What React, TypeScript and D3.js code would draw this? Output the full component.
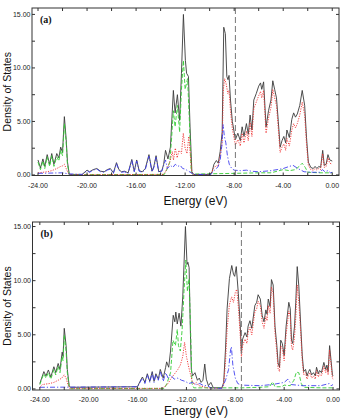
import React from "react";
import { scaleLinear, line, range } from "d3";

type Pt = [number, number];

// energy (eV), density of states
const totalA: Pt[] = [
  [-24.0, 1.4], [-23.8, 0.65], [-23.6, 1.5], [-23.45, 0.8], [-23.25, 1.9], [-23.05, 1.0], [-22.88, 2.0], [-22.7, 1.0],
  [-22.47, 2.0], [-22.3, 1.6], [-22.15, 2.6], [-22.0, 2.1], [-21.85, 5.45], [-21.7, 3.3], [-21.6, 1.25], [-21.45, 0.05],
  [-20.4, 0.05], [-20.0, 0.45], [-19.8, 0.3], [-19.5, 0.5], [-19.2, 0.6], [-18.9, 0.35], [-18.6, 0.3], [-18.35, 0.5],
  [-18.1, 0.6], [-17.85, 0.2], [-17.6, 1.15], [-17.4, 0.5], [-17.2, 0.3], [-16.95, 0.35], [-16.65, 0.2], [-16.35, 1.45],
  [-16.15, 0.35], [-15.95, 1.4], [-15.75, 0.4], [-15.5, 0.3], [-15.25, 0.6], [-14.95, 1.9], [-14.7, 0.35], [-14.55, 0.8],
  [-14.37, 1.8], [-14.15, 0.3], [-13.9, 0.4], [-13.75, 1.0], [-13.6, 2.3], [-13.4, 1.5], [-13.2, 2.6], [-12.96, 7.9],
  [-12.82, 5.8], [-12.63, 7.5], [-12.45, 5.1], [-12.3, 9.5], [-12.14, 15.0], [-11.98, 10.7], [-11.88, 9.5], [-11.73, 9.2],
  [-11.6, 4.5], [-11.45, 0.3], [-11.3, 0.05], [-10.0, 0.05], [-9.8, 0.3], [-9.65, 1.0], [-9.45, 1.35], [-9.3, 1.1],
  [-9.14, 2.2], [-8.98, 4.0], [-8.85, 13.8], [-8.72, 13.2], [-8.6, 9.2], [-8.5, 8.9], [-8.42, 9.3], [-8.3, 7.0],
  [-8.15, 5.0], [-8.0, 4.0], [-7.9, 3.3], [-7.7, 3.9], [-7.5, 3.2], [-7.35, 4.5], [-7.2, 3.6], [-7.0, 4.8],
  [-6.85, 3.8], [-6.7, 5.6], [-6.55, 4.2], [-6.4, 7.0], [-6.2, 7.6], [-6.0, 8.3], [-5.85, 8.6], [-5.75, 8.0],
  [-5.6, 8.7], [-5.4, 4.5], [-5.2, 6.0], [-5.0, 7.0], [-4.85, 8.8], [-4.7, 8.0], [-4.55, 7.2], [-4.4, 5.0],
  [-4.25, 2.6], [-4.1, 3.2], [-3.95, 3.6], [-3.8, 3.0], [-3.7, 4.2], [-3.5, 3.5], [-3.3, 5.2], [-3.15, 5.8],
  [-3.0, 5.4], [-2.85, 5.7], [-2.65, 6.5], [-2.45, 7.9], [-2.25, 6.5], [-2.1, 3.5], [-1.95, 1.2], [-1.75, 0.7],
  [-1.55, 0.6], [-1.4, 0.8], [-1.25, 0.6], [-1.1, 0.8], [-0.95, 0.7], [-0.78, 2.3], [-0.65, 0.9], [-0.5, 1.0],
  [-0.35, 1.9], [-0.2, 1.4], [0, 1.3],
];

const sA: Pt[] = [
  [-24.0, 1.2], [-23.8, 0.5], [-23.6, 1.3], [-23.45, 0.6], [-23.25, 1.7], [-23.05, 0.8], [-22.88, 1.8], [-22.7, 0.8],
  [-22.47, 1.7], [-22.3, 1.3], [-22.15, 2.3], [-22.0, 1.8], [-21.85, 4.8], [-21.7, 3.0], [-21.6, 1.0], [-21.45, 0.03],
  [-13.7, 0.05], [-13.45, 0.6], [-13.25, 1.2], [-13.1, 3.5], [-12.96, 6.0], [-12.82, 4.5], [-12.63, 6.5], [-12.45, 4.0],
  [-12.3, 8.0], [-12.14, 10.7], [-12.0, 8.0], [-11.8, 9.0], [-11.65, 5.0], [-11.5, 0.3], [-11.4, 0.08], [-8.0, 0.15],
  [-6.0, 0.2], [-5.0, 0.2], [-4.5, 0.35], [-4.0, 0.5], [-3.5, 0.4], [-3.0, 0.5], [-2.7, 0.8], [-2.45, 1.1],
  [-2.2, 0.7], [-2.0, 0.25], [-1.0, 0.2], [0, 0.2],
];

const pA: Pt[] = [
  [-24.0, 0.2], [-23.6, 0.25], [-23.25, 0.3], [-22.88, 0.4], [-22.47, 0.6], [-22.15, 0.8], [-22.0, 0.85], [-21.85, 1.0],
  [-21.7, 0.6], [-21.55, 0.2], [-21.45, 0.02], [-13.8, 0.05], [-13.6, 0.3], [-13.4, 0.8], [-13.2, 1.4], [-13.05, 2.2],
  [-12.95, 1.4], [-12.8, 2.5], [-12.65, 1.6], [-12.5, 2.3], [-12.3, 2.0], [-12.15, 3.9], [-12.0, 2.5], [-11.85, 2.0],
  [-11.7, 3.6], [-11.55, 1.5], [-11.45, 0.1], [-11.3, 0.02], [-9.9, 0.02], [-9.7, 0.6], [-9.45, 0.9], [-9.3, 0.8],
  [-9.14, 1.8], [-8.98, 3.0], [-8.88, 8.0], [-8.78, 9.0], [-8.65, 8.5], [-8.52, 7.6], [-8.42, 7.9], [-8.3, 6.0],
  [-8.15, 4.3], [-8.0, 3.4], [-7.9, 2.8], [-7.7, 3.3], [-7.5, 2.7], [-7.35, 3.9], [-7.2, 3.0], [-7.0, 4.1],
  [-6.85, 3.2], [-6.7, 4.9], [-6.55, 3.6], [-6.4, 6.2], [-6.2, 6.8], [-6.0, 7.4], [-5.85, 7.8], [-5.75, 7.2],
  [-5.6, 7.9], [-5.4, 3.9], [-5.2, 5.3], [-5.0, 6.3], [-4.85, 8.0], [-4.7, 7.2], [-4.55, 6.5], [-4.4, 4.3],
  [-4.25, 2.1], [-4.1, 2.6], [-3.95, 2.9], [-3.8, 2.3], [-3.7, 3.4], [-3.5, 2.7], [-3.3, 4.2], [-3.15, 4.8],
  [-3.0, 4.4], [-2.85, 4.8], [-2.65, 5.6], [-2.45, 6.8], [-2.25, 5.6], [-2.1, 2.9], [-1.95, 0.9], [-1.75, 0.5],
  [-1.55, 0.45], [-1.4, 0.6], [-1.25, 0.45], [-1.1, 0.6], [-0.95, 0.5], [-0.78, 2.0], [-0.65, 0.7], [-0.5, 0.8],
  [-0.35, 1.6], [-0.2, 1.1], [0, 1.0],
];

const dA: Pt[] = [
  [-24.0, 0.15], [-22.0, 0.2], [-21.5, 0.1], [-20.4, 0.05], [-20.0, 0.4], [-19.8, 0.25], [-19.5, 0.45], [-19.2, 0.55],
  [-18.9, 0.3], [-18.6, 0.25], [-18.35, 0.45], [-18.1, 0.55], [-17.85, 0.15], [-17.6, 1.05], [-17.4, 0.45], [-17.2, 0.25],
  [-16.95, 0.3], [-16.65, 0.15], [-16.35, 1.35], [-16.15, 0.3], [-15.95, 1.3], [-15.75, 0.35], [-15.5, 0.25], [-15.25, 0.5],
  [-14.95, 1.75], [-14.7, 0.3], [-14.55, 0.7], [-14.37, 1.65], [-14.15, 0.25], [-13.9, 0.35], [-13.75, 0.9], [-13.6, 1.4],
  [-13.45, 0.6], [-13.2, 0.9], [-13.0, 0.7], [-12.8, 1.0], [-12.6, 0.8], [-12.4, 0.9], [-12.2, 0.6], [-12.0, 0.55],
  [-11.8, 0.4], [-11.5, 0.2], [-11.3, 0.05], [-9.9, 0.05], [-9.65, 0.4], [-9.45, 0.6], [-9.3, 0.8], [-9.14, 1.4],
  [-9.0, 2.8], [-8.9, 4.7], [-8.8, 3.6], [-8.68, 3.0], [-8.55, 1.8], [-8.4, 1.0], [-8.2, 0.6], [-8.0, 0.45],
  [-7.5, 0.4], [-7.0, 0.45], [-6.6, 0.35], [-6.0, 0.3], [-5.5, 0.35], [-5.0, 0.4], [-4.5, 0.5], [-4.0, 0.6],
  [-3.5, 0.8], [-3.2, 0.9], [-2.8, 0.6], [-2.3, 0.3], [-1.5, 0.25], [-1.0, 0.25], [-0.8, 0.5], [-0.6, 0.3],
  [-0.35, 0.4], [-0.15, 0.2], [0, 0.25],
];

const totalB: Pt[] = [
  [-24.0, 0.5], [-23.85, 1.0], [-23.67, 1.6], [-23.5, 1.2], [-23.3, 1.75], [-23.1, 1.1], [-22.85, 2.05], [-22.7, 1.5],
  [-22.5, 2.35], [-22.35, 1.8], [-22.17, 3.4], [-22.1, 3.0], [-22.0, 5.6], [-21.85, 4.0], [-21.75, 1.8], [-21.6, 0.3],
  [-21.5, 0.15], [-16.0, 0.2], [-15.8, 0.7], [-15.6, 1.1], [-15.4, 0.6], [-15.2, 1.4], [-15.0, 0.7], [-14.8, 1.6],
  [-14.65, 0.7], [-14.5, 1.4], [-14.3, 0.9], [-14.14, 1.8], [-13.9, 1.0], [-13.7, 2.0], [-13.62, 2.5], [-13.45, 2.0],
  [-13.3, 3.5], [-13.08, 6.8], [-12.95, 6.2], [-12.87, 7.1], [-12.75, 6.0], [-12.6, 7.0], [-12.45, 5.8], [-12.3, 8.5],
  [-12.08, 15.0], [-11.95, 11.5], [-11.88, 11.7], [-11.78, 11.2], [-11.68, 5.5], [-11.6, 1.8], [-11.5, 1.2], [-11.3, 1.5],
  [-11.1, 0.8], [-10.95, 1.0], [-10.8, 0.6], [-10.65, 0.8], [-10.5, 2.3], [-10.37, 0.9], [-10.2, 0.3], [-10.0, 0.6],
  [-9.8, 0.1], [-9.1, 0.1], [-8.95, 0.6], [-8.8, 3.7], [-8.67, 7.4], [-8.48, 10.2], [-8.29, 11.4], [-8.15, 10.6],
  [-8.05, 10.4], [-7.92, 11.3], [-7.75, 8.8], [-7.6, 6.0], [-7.5, 3.4], [-7.4, 4.6], [-7.2, 5.2], [-7.05, 4.8],
  [-6.95, 5.8], [-6.8, 6.3], [-6.65, 5.6], [-6.4, 7.7], [-6.25, 8.0], [-6.13, 8.7], [-5.95, 8.3], [-5.8, 6.8],
  [-5.65, 6.2], [-5.5, 7.3], [-5.4, 6.9], [-5.3, 8.3], [-5.15, 7.6], [-5.04, 10.1], [-4.9, 9.6], [-4.75, 5.8],
  [-4.6, 4.0], [-4.5, 2.4], [-4.38, 2.0], [-4.28, 4.5], [-4.15, 4.2], [-4.0, 3.1], [-3.84, 5.8], [-3.62, 8.0],
  [-3.5, 7.4], [-3.4, 4.5], [-3.3, 4.2], [-3.15, 5.8], [-3.05, 8.0], [-2.93, 11.3], [-2.8, 9.5], [-2.65, 6.0],
  [-2.52, 3.1], [-2.4, 1.6], [-2.25, 1.8], [-2.13, 1.2], [-2.0, 1.6], [-1.9, 1.8], [-1.75, 1.3], [-1.6, 1.5],
  [-1.45, 1.2], [-1.35, 2.0], [-1.2, 1.4], [-1.1, 1.7], [-0.95, 1.5], [-0.75, 2.45], [-0.6, 1.8], [-0.5, 2.2],
  [-0.4, 1.6], [-0.28, 4.0], [-0.15, 2.5], [-0.05, 1.3], [0, 1.2],
];

const sB: Pt[] = [
  [-24.0, 0.4], [-23.85, 0.9], [-23.67, 1.4], [-23.5, 1.0], [-23.3, 1.5], [-23.1, 0.9], [-22.85, 1.8], [-22.7, 1.3],
  [-22.5, 2.1], [-22.35, 1.5], [-22.17, 3.0], [-22.1, 2.6], [-22.0, 5.0], [-21.85, 3.5], [-21.75, 1.5], [-21.6, 0.2],
  [-21.5, 0.02], [-13.8, 0.05], [-13.6, 0.5], [-13.3, 1.5], [-13.1, 4.5], [-12.9, 4.0], [-12.75, 5.5], [-12.65, 4.0],
  [-12.5, 3.5], [-12.35, 5.5], [-12.2, 9.0], [-12.05, 11.9], [-11.92, 9.0], [-11.78, 10.2], [-11.65, 5.0], [-11.55, 0.5],
  [-11.4, 0.1], [-9.0, 0.1], [-7.5, 0.1], [-6.0, 0.15], [-5.2, 0.2], [-4.95, 0.65], [-4.75, 0.2], [-4.2, 0.2],
  [-4.0, 0.35], [-3.5, 0.3], [-3.2, 0.8], [-3.0, 1.55], [-2.8, 1.5], [-2.6, 0.5], [-2.4, 0.15], [-1.0, 0.1], [0, 0.1],
];

const pB: Pt[] = [
  [-24.0, 0.15], [-23.8, 0.4], [-23.5, 0.45], [-23.2, 0.5], [-22.85, 0.6], [-22.5, 0.8], [-22.2, 1.0], [-22.0, 1.3],
  [-21.85, 1.0], [-21.7, 0.4], [-21.55, 0.05], [-14.0, 0.05], [-13.8, 0.2], [-13.5, 0.5], [-13.3, 0.9], [-13.1, 1.2],
  [-12.9, 1.5], [-12.7, 1.8], [-12.5, 2.2], [-12.3, 3.0], [-12.15, 4.3], [-12.0, 3.0], [-11.85, 2.2], [-11.7, 1.5],
  [-11.55, 0.8], [-11.4, 0.4], [-11.2, 0.6], [-11.0, 0.3], [-10.6, 0.2], [-10.3, 0.1], [-9.1, 0.05], [-8.95, 0.4],
  [-8.8, 2.5], [-8.67, 5.5], [-8.48, 7.8], [-8.3, 8.5], [-8.15, 8.0], [-8.0, 8.9], [-7.88, 9.2], [-7.75, 7.6],
  [-7.6, 5.0], [-7.5, 2.9], [-7.4, 4.0], [-7.2, 4.6], [-7.05, 4.2], [-6.95, 5.2], [-6.8, 5.7], [-6.65, 5.0],
  [-6.4, 7.1], [-6.25, 7.4], [-6.13, 8.1], [-5.95, 7.7], [-5.8, 6.2], [-5.65, 5.6], [-5.5, 6.7], [-5.4, 6.3],
  [-5.3, 7.7], [-5.15, 7.0], [-5.04, 9.4], [-4.9, 8.9], [-4.75, 5.2], [-4.6, 3.4], [-4.5, 1.9], [-4.38, 1.6],
  [-4.28, 4.0], [-4.15, 3.7], [-4.0, 2.6], [-3.84, 5.0], [-3.62, 7.2], [-3.5, 6.7], [-3.4, 3.9], [-3.3, 3.6],
  [-3.15, 4.8], [-3.05, 6.6], [-2.93, 9.6], [-2.8, 8.0], [-2.65, 5.3], [-2.52, 2.6], [-2.4, 1.3], [-2.25, 1.5],
  [-2.13, 0.9], [-2.0, 1.3], [-1.9, 1.5], [-1.75, 1.0], [-1.6, 1.2], [-1.45, 0.9], [-1.35, 1.7], [-1.2, 1.1],
  [-1.1, 1.4], [-0.95, 1.2], [-0.75, 2.1], [-0.6, 1.5], [-0.5, 1.9], [-0.4, 1.3], [-0.28, 3.6], [-0.15, 2.1],
  [-0.05, 1.0], [0, 0.9],
];

const dB: Pt[] = [
  [-24.0, 0.15], [-16.0, 0.2], [-15.8, 0.6], [-15.6, 1.0], [-15.4, 0.5], [-15.2, 1.3], [-15.0, 0.6], [-14.8, 1.5],
  [-14.65, 0.6], [-14.5, 1.3], [-14.3, 0.8], [-14.14, 1.6], [-13.9, 0.7], [-13.7, 1.5], [-13.5, 1.0], [-13.3, 1.3],
  [-13.0, 0.9], [-12.7, 1.0], [-12.4, 0.8], [-12.1, 0.7], [-11.8, 0.5], [-11.5, 0.6], [-11.2, 0.4], [-10.9, 0.5],
  [-10.6, 0.3], [-10.3, 0.3], [-10.0, 0.1], [-9.1, 0.05], [-8.8, 0.8], [-8.55, 1.8], [-8.4, 3.5], [-8.32, 3.9],
  [-8.2, 2.2], [-8.0, 1.0], [-7.8, 0.5], [-7.5, 0.35], [-6.0, 0.3], [-5.0, 0.4], [-4.0, 0.6], [-3.7, 0.9],
  [-3.4, 0.4], [-2.5, 0.3], [-1.0, 0.3], [-0.3, 0.5], [-0.15, 0.3], [0, 0.4],
];

const xTickLabels = [-24, -20, -16, -12, -8, -4, 0];
const yTickLabels = [0, 5, 10, 15];

const font = "'Liberation Sans', Arial, sans-serif";

type PanelProps = {
  tag: string;
  total: Pt[];
  s: Pt[];
  p: Pt[];
  d: Pt[];
  fermi: number;
  box: { left: number; right: number; top: number; bottom: number };
  xDomain: [number, number];
  yDomain: [number, number];
};

const Panel = ({ tag, total, s, p, d, fermi, box, xDomain, yDomain }: PanelProps) => {
  const x = scaleLinear().domain(xDomain).range([box.left, box.right]);
  const y = scaleLinear().domain(yDomain).range([box.bottom, box.top]);
  const path = line<Pt>().x((v) => x(v[0])).y((v) => y(v[1]));

  const xMinor = range(-24, 0.01, 2);
  const yMinor = range(0, 15.01, 2.5);
  const midY = (box.top + box.bottom) / 2;
  // keep the axis title inside the page at the bottom
  const titleY = Math.min(box.bottom + 29, 415);

  return (
    <g>
      {/* curves */}
      <path d={path(total) || ""} fill="none" stroke="#3a3a3a" strokeWidth={0.9} />
      <path d={path(s) || ""} fill="none" stroke="#33cc33" strokeWidth={0.9} strokeDasharray="4,2" />
      <path d={path(p) || ""} fill="none" stroke="#ee3030" strokeWidth={0.9} strokeDasharray="1.2,1.3" />
      <path d={path(d) || ""} fill="none" stroke="#4040ee" strokeWidth={0.9} strokeDasharray="5,2,1.2,2" />

      {/* fermi level */}
      <line x1={x(fermi)} x2={x(fermi)} y1={box.top} y2={box.bottom} stroke="#777" strokeWidth={1} strokeDasharray="6,3" />

      {/* frame */}
      <rect x={box.left} y={box.top} width={box.right - box.left} height={box.bottom - box.top}
        fill="none" stroke="#333" strokeWidth={1} />

      {xMinor.map((t) => (
        <g key={"xt" + t}>
          <line x1={x(t)} x2={x(t)} y1={box.top} y2={box.top + 3} stroke="#333" />
          <line x1={x(t)} x2={x(t)} y1={box.bottom} y2={box.bottom - 3} stroke="#333" />
        </g>
      ))}
      {yMinor.map((t) => (
        <g key={"yt" + t}>
          <line x1={box.left} x2={box.left + 3} y1={y(t)} y2={y(t)} stroke="#333" />
          <line x1={box.right} x2={box.right - 3} y1={y(t)} y2={y(t)} stroke="#333" />
        </g>
      ))}

      {xTickLabels.map((t) => (
        <text key={"xl" + t} x={x(t)} y={box.bottom + 12} fontSize={7} fontFamily={font}
          textAnchor="middle" fill="#222">{t.toFixed(2)}</text>
      ))}
      {yTickLabels.map((t) => (
        <text key={"yl" + t} x={box.left - 1.5} y={y(t) + 2.5} fontSize={7} fontFamily={font}
          textAnchor="end" fill="#222">{t.toFixed(2)}</text>
      ))}

      <text x={(box.left + box.right) / 2 + 10} y={titleY} fontSize={12} fontFamily={font}
        textAnchor="middle" fill="#111">Energy (eV)</text>
      <text transform={`translate(11,${midY}) rotate(-90)`} fontSize={10.5} fontFamily={font}
        textAnchor="middle" fill="#111">Density of States</text>
      <text x={box.left + 8} y={box.top + 15} fontSize={10} fontWeight="bold"
        fontFamily="'Liberation Serif', 'Times New Roman', serif" fill="#111">{tag}</text>
    </g>
  );
};

export default function App() {
  return (
    <svg width={344} height={419} style={{ position: "absolute", left: 0, top: 0, background: "#fff" }}>
      <Panel tag="(a)" total={totalA} s={sA} p={pA} d={dA} fermi={-7.9}
        box={{ left: 32, right: 339, top: 8, bottom: 175.5 }}
        xDomain={[-24.49, 0.55]} yDomain={[-0.05, 15.6]} />
      <Panel tag="(b)" total={totalB} s={sB} p={pB} d={dB} fermi={-7.5}
        box={{ left: 32.5, right: 339.5, top: 222, bottom: 390 }}
        xDomain={[-24.6, 0.53]} yDomain={[-0.1, 15.42]} />
    </svg>
  );
}
